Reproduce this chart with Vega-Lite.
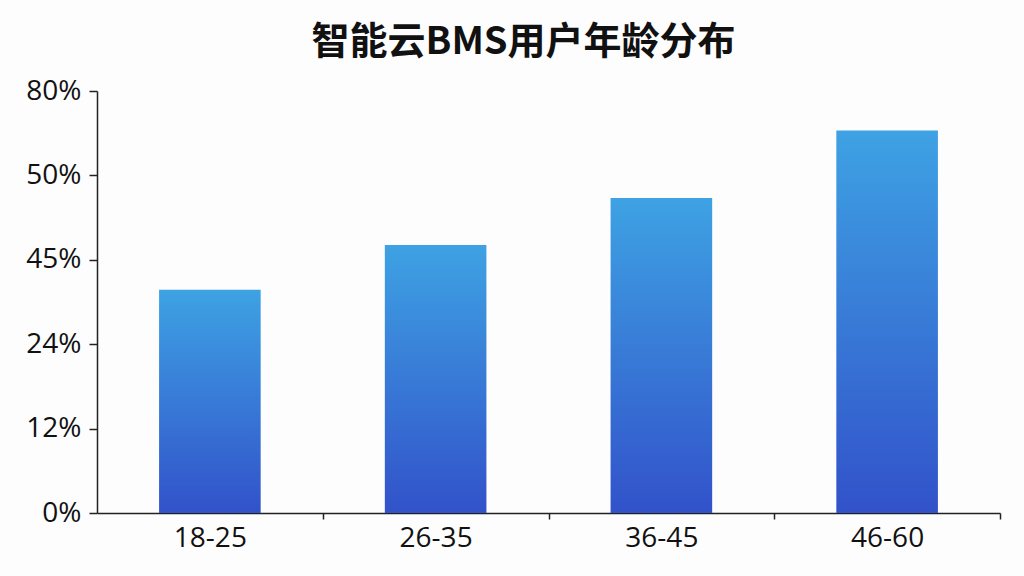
{
  "$schema": "https://vega.github.io/schema/vega-lite/v6.json",
  "width": 903,
  "height": 422,
  "autosize": "none",
  "padding": {"left": 97, "top": 91, "right": 24, "bottom": 63},
  "background": "#fdfdfd",
  "title": {
    "text": "智能云BMS用户年龄分布",
    "font": "Noto Sans CJK SC",
    "fontSize": 38,
    "fontWeight": "bold",
    "color": "#111111",
    "anchor": "middle",
    "dx": -25,
    "offset": 15
  },
  "data": {
    "values": [
      {"age": "18-25", "share": 42.3},
      {"age": "26-35", "share": 50.8},
      {"age": "36-45", "share": 59.7},
      {"age": "46-60", "share": 72.5}
    ]
  },
  "mark": {
    "type": "bar",
    "color": {
      "gradient": "linear",
      "x1": 0, "y1": 0, "x2": 0, "y2": 1,
      "stops": [
        {"offset": 0, "color": "#3ea2e3"},
        {"offset": 1, "color": "#3252ca"}
      ]
    }
  },
  "encoding": {
    "x": {
      "field": "age",
      "type": "nominal",
      "sort": null,
      "title": null,
      "scale": {"paddingInner": 0.55, "paddingOuter": 0.275},
      "axis": {
        "labelAngle": 0,
        "tickOffset": 113,
        "labelOffset": -113,
        "tickSize": 6,
        "labelPadding": 5
      }
    },
    "y": {
      "field": "share",
      "type": "quantitative",
      "title": null,
      "scale": {"domain": [0, 80], "nice": false},
      "axis": {
        "values": [0, 16, 32, 48, 64, 80],
        "labelExpr": "{'0': '0%', '16': '12%', '32': '24%', '48': '45%', '64': '50%', '80': '80%'}[datum.value + '']",
        "tickSize": 8,
        "labelPadding": 8,
        "grid": false
      }
    }
  },
  "config": {
    "view": {"stroke": null},
    "axis": {
      "labelFont": "Open Sans",
      "labelFontSize": 28,
      "labelColor": "#111111",
      "domainColor": "#222222",
      "domainWidth": 1.5,
      "tickColor": "#222222",
      "tickWidth": 1.5
    }
  }
}
